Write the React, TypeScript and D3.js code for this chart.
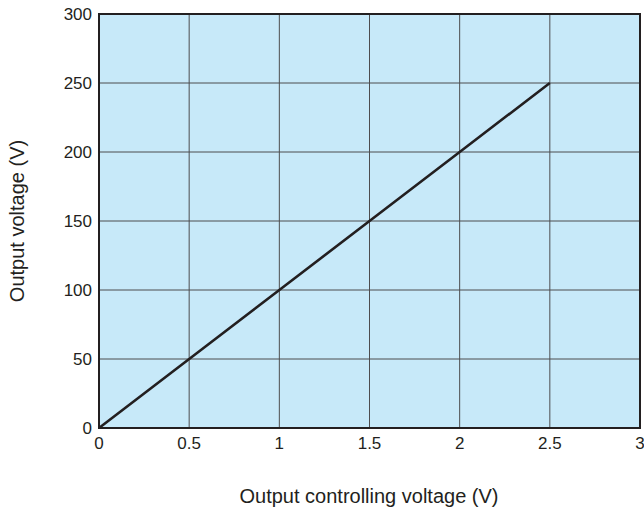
import React from "react";
import * as d3 from "d3";

const xTicks = [0, 0.5, 1, 1.5, 2, 2.5, 3];
const yTicks = [0, 50, 100, 150, 200, 250, 300];
const lineX = [0, 0.5, 1, 1.5, 2, 2.5];
const lineY = [0, 50, 100, 150, 200, 250];

export default function App() {
  const W = 644, H = 513;
  const left = 99, right = 640, top = 14, bottom = 428;
  const x = d3.scaleLinear().domain([0, 3]).range([left, right]);
  const y = d3.scaleLinear().domain([0, 300]).range([bottom, top]);
  const line = d3.line<number>().x((_, i) => x(lineX[i])).y((d) => y(d));
  const font = "Helvetica, Arial, 'Liberation Sans', sans-serif";
  return (
    <svg width={W} height={H} style={{ position: "absolute", left: 0, top: 0 }} fontFamily={font}>
      <rect x={left} y={top} width={right - left} height={bottom - top} fill="#c7e9f9" />
      {xTicks.slice(1, -1).map((t) => (
        <line key={"gx" + t} x1={x(t)} x2={x(t)} y1={top} y2={bottom} stroke="#4d4d4f" strokeWidth={1} />
      ))}
      {yTicks.slice(1, -1).map((t) => (
        <line key={"gy" + t} x1={left} x2={right} y1={y(t)} y2={y(t)} stroke="#4d4d4f" strokeWidth={1} />
      ))}
      <rect x={left} y={top} width={right - left} height={bottom - top} fill="none" stroke="#231f20" strokeWidth={2} />
      <path d={line(lineY) || ""} fill="none" stroke="#231f20" strokeWidth={2.6} />
      {xTicks.map((t) => (
        <text key={"xt" + t} x={x(t)} y={bottom + 21} textAnchor="middle" fontSize={17} fill="#231f20">
          {t}
        </text>
      ))}
      {yTicks.map((t) => (
        <text key={"yt" + t} x={left - 7} y={y(t) + 6} textAnchor="end" fontSize={17} fill="#231f20">
          {t}
        </text>
      ))}
      <text x={369} y={503} textAnchor="middle" fontSize={20} fill="#231f20">
        Output controlling voltage (V)
      </text>
      <text transform={`translate(24,221) rotate(-90)`} textAnchor="middle" fontSize={20} fill="#231f20">
        Output voltage (V)
      </text>
    </svg>
  );
}
